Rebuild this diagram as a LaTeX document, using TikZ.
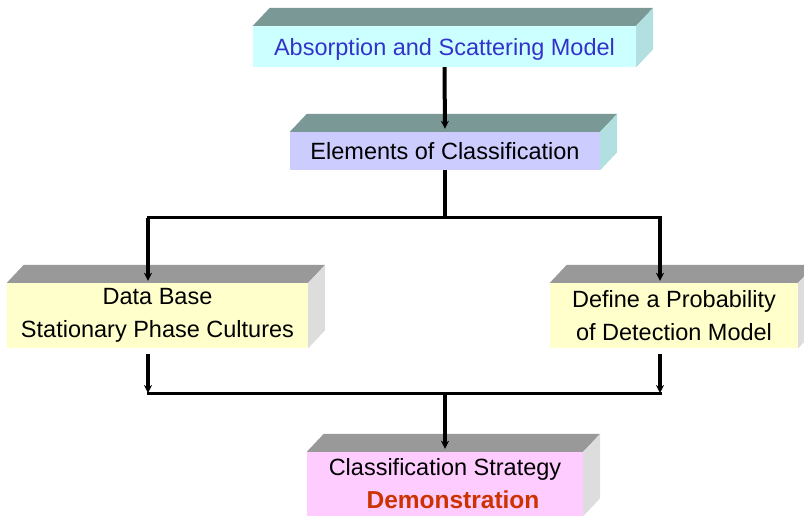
\documentclass[tikz,border=0pt]{standalone}
\usepackage{fontspec}
\setmainfont{Liberation Sans}
\usetikzlibrary{arrows.meta}
\definecolor{absfront}{RGB}{204,255,255}
\definecolor{abstext}{RGB}{51,51,204}
\definecolor{tealtop}{RGB}{122,152,150}
\definecolor{tealside}{RGB}{178,224,224}
\definecolor{elemfront}{RGB}{204,204,255}
\definecolor{yellowfront}{RGB}{255,255,204}
\definecolor{pinkfront}{RGB}{255,204,255}
\definecolor{graytop}{RGB}{153,153,153}
\definecolor{grayside}{RGB}{221,221,221}
\definecolor{demored}{RGB}{204,51,0}
\begin{document}
\begin{tikzpicture}[x=1pt, y=-1pt, line join=round, >={Stealth[length=8pt,width=8pt]},
	box/.style={inner sep=0pt, align=center, font=\fontsize{23.5}{33}\selectfont},
	vlink/.style={line width=4pt},
	hlink/.style={line width=3pt, line cap=rect}]
	\clip (0,0) rectangle (804,516);
	\def\dx{17} % do sau theo x
	\def\dy{18} % do sau theo y
	% mat truoc
	\node[box, fill=absfront, text=abstext, text depth=0pt, minimum width=383pt, minimum height=41pt] (abs) at (444.5,46.5) {Absorption and Scattering Model};
	\node[box, fill=elemfront, text depth=0pt, minimum width=310pt, minimum height=38pt] (elem) at (445,151) {Elements of Classification};
	\node[box, fill=yellowfront, minimum width=301pt, minimum height=65pt] (db) at (157.5,315.5) {Data Base\\Stationary Phase Cultures};
	\node[box, fill=yellowfront, minimum width=248pt, minimum height=65pt] (pod) at (674,315.5) {Define a Probability\\of Detection Model};
	\node[box, fill=pinkfront, minimum width=276pt, minimum height=64pt] (strat) at (445,484) {Classification Strategy\\\hspace*{16pt}{\fontsize{24.5}{33}\selectfont\bfseries\color{demored}Demonstration}};
	% mat tren va mat ben
	\foreach \n/\tc/\sc in {abs/tealtop/tealside, elem/tealtop/tealside, db/graytop/grayside, pod/graytop/grayside, strat/graytop/grayside}{
		\fill[\tc] (\n.north west) -- ++(\dx,-\dy) -- ([shift={(\dx,-\dy)}]\n.north east) -- (\n.north east) -- cycle;
		\fill[\sc] (\n.north east) -- ++(\dx,-\dy) -- ([shift={(\dx,-\dy)}]\n.south east) -- (\n.south east) -- cycle;
	}
	% duong noi
	\coordinate (tl) at (148,218);
	\coordinate (tr) at (660,218);
	\coordinate (bl) at (148,393);
	\coordinate (br) at (660,393);
	\draw[vlink, ->, shorten >=3pt] (abs.south) -- (elem.north);
	\draw[vlink] (elem.south) -- (elem.south |- tl);
	\draw[hlink] (tl) -- (tr);
	\draw[vlink, ->, shorten >=2pt] (tl) -- (db.north -| tl);
	\draw[vlink, ->, shorten >=2pt] (tr) -- (pod.north -| tr);
	\draw[vlink, ->, shorten <=6pt] (db.south -| bl) -- (bl);
	\draw[vlink, ->, shorten <=6pt] (pod.south -| br) -- (br);
	\draw[hlink] (bl) -- (br);
	\draw[vlink, ->, shorten >=3pt] (bl -| strat.north) -- (strat.north);
\end{tikzpicture}
\end{document}
